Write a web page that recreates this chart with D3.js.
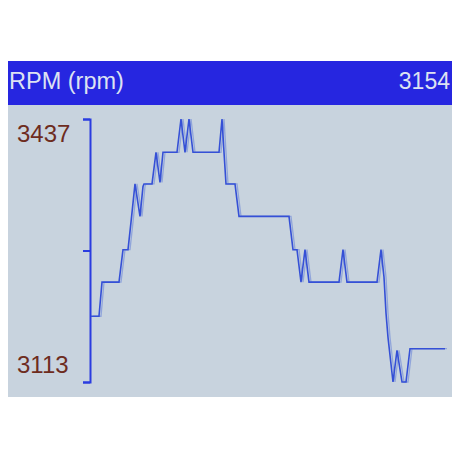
<!DOCTYPE html>
<html>
<head>
<meta charset="utf-8">
<script src="https://cdn.jsdelivr.net/npm/d3@7"></script>
<style>
  body { margin: 0; background: #fff; }
  svg { display: block; }
</style>
</head>
<body>
<svg width="460" height="460"></svg>
<script>
var width = 460;
var height = 460;
var screen = { left: 8, top: 61, right: 452, bottom: 397 };
var headerHeight = 44;

// title and current reading shown in the header
var title = "RPM (rpm)";
var currentValue = 3154;

// y axis
var yMin = 3113;
var yMax = 3437;
var yTickValues = [3113, 3275, 3437];
var yLabels = ["3437", "3113"];

// samples (t = sample tick, rpm = reading)
var sampleT = [0, 8, 11, 28, 32, 37, 40, 44, 49, 52, 53, 61, 65, 69, 72, 86, 90, 94, 98, 102,
  128, 131, 133, 135, 144, 148, 198, 202, 206, 210, 214, 218, 248, 252, 256, 286, 290, 293,
  295, 297, 302, 306, 311, 315, 319, 354];
var sampleRpm = [3194, 3194, 3236, 3236, 3276, 3276, 3310, 3357, 3317, 3354, 3357, 3357, 3396,
  3359, 3396, 3396, 3437, 3396, 3437, 3396, 3396, 3437, 3396, 3357, 3357, 3317, 3317, 3276,
  3276, 3236, 3276, 3236, 3236, 3276, 3236, 3236, 3276, 3242, 3198, 3168, 3113, 3152, 3113,
  3113, 3154, 3154];

var data = sampleT.map(function(t, i) { return { t: t, rpm: sampleRpm[i] }; });

var xScale = d3.scaleLinear().domain([0, 354]).range([91, 445]);
var yScale = d3.scaleLinear().domain([yMin, yMax]).range([382, 119]);

var svg = d3.select("svg");

// screen background
svg.append("rect")
  .attr("x", screen.left)
  .attr("y", screen.top)
  .attr("width", screen.right - screen.left)
  .attr("height", screen.bottom - screen.top)
  .attr("fill", "#c8d3de");

// header bar
svg.append("rect")
  .attr("x", screen.left)
  .attr("y", screen.top)
  .attr("width", screen.right - screen.left)
  .attr("height", headerHeight)
  .attr("fill", "#2626e0");

svg.append("text")
  .attr("x", screen.left + 1)
  .attr("y", screen.top + 28)
  .attr("font-family", "Liberation Sans, Arial, sans-serif")
  .attr("font-size", 23.5)
  .attr("fill", "#dde2f2")
  .text(title);

svg.append("text")
  .attr("x", screen.right - 2)
  .attr("y", screen.top + 28)
  .attr("text-anchor", "end")
  .attr("font-family", "Liberation Sans, Arial, sans-serif")
  .attr("font-size", 23)
  .attr("fill", "#dde2f2")
  .text(currentValue);

// axis
var yAxis = d3.axisLeft(yScale)
  .tickValues(yTickValues)
  .tickSize(7)
  .tickFormat("");

var axisG = svg.append("g")
  .attr("transform", "translate(90,0)")
  .call(yAxis);
axisG.selectAll("path, line")
  .attr("stroke", "#2a3ce0")
  .attr("stroke-width", 2);

// min / max labels sit just inside the axis ends
svg.append("text")
  .attr("x", 17)
  .attr("y", yScale(yMax) + 23)
  .attr("font-family", "Liberation Sans, Arial, sans-serif")
  .attr("font-size", 24)
  .attr("fill", "#6e2c1e")
  .text(yLabels[0]);

svg.append("text")
  .attr("x", 17)
  .attr("y", yScale(yMin) - 9)
  .attr("font-family", "Liberation Sans, Arial, sans-serif")
  .attr("font-size", 24)
  .attr("fill", "#6e2c1e")
  .text(yLabels[1]);

var line = d3.line()
  .x(function(d) { return xScale(d.t); })
  .y(function(d) { return yScale(d.rpm); });

// faint ghost of the trace, like the LCD afterimage
svg.append("path")
  .datum(data)
  .attr("transform", "translate(2,0)")
  .attr("fill", "none")
  .attr("stroke", "#5a78d8")
  .attr("stroke-opacity", 0.5)
  .attr("stroke-width", 1.3)
  .attr("d", line);

svg.append("path")
  .datum(data)
  .attr("fill", "none")
  .attr("stroke", "#3550d6")
  .attr("stroke-width", 1.6)
  .attr("d", line);
</script>
</body>
</html>
